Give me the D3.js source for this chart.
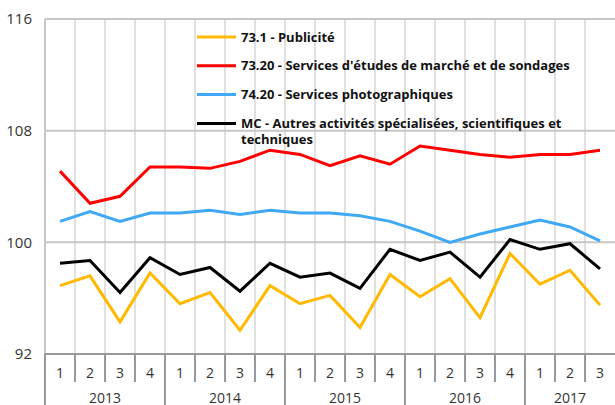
<!DOCTYPE html>
<html>
<head>
<meta charset="utf-8">
<script src="https://cdn.jsdelivr.net/npm/d3@7"></script>
<style>
  body { margin: 0; background: #fff; }
  svg { display: block; font-family: "Open Sans", "Noto Sans", sans-serif; }
</style>
</head>
<body>
<svg id="chart"></svg>
<script>
const years = ["2013", "2014", "2015", "2016", "2017"];
const quarters = ["1", "2", "3", "4", "1", "2", "3", "4", "1", "2", "3", "4", "1", "2", "3", "4", "1", "2", "3"];
const yearOf = [0, 0, 0, 0, 1, 1, 1, 1, 2, 2, 2, 2, 3, 3, 3, 3, 4, 4, 4];
const yTicks = [92, 100, 108, 116];

const publicite = [96.9, 97.6, 94.3, 97.8, 95.6, 96.4, 93.7, 96.9, 95.6, 96.2, 93.9, 97.7, 96.1, 97.4, 94.6, 99.2, 97.0, 98.0, 95.5];
const etudes = [105.1, 102.8, 103.3, 105.4, 105.4, 105.3, 105.8, 106.6, 106.3, 105.5, 106.2, 105.6, 106.9, 106.6, 106.3, 106.1, 106.3, 106.3, 106.6];
const photo = [101.5, 102.2, 101.5, 102.1, 102.1, 102.3, 102.0, 102.3, 102.1, 102.1, 101.9, 101.5, 100.8, 100.0, 100.6, 101.1, 101.6, 101.1, 100.1];
const autres = [98.5, 98.7, 96.4, 98.9, 97.7, 98.2, 96.5, 98.5, 97.5, 97.8, 96.7, 99.5, 98.7, 99.3, 97.5, 100.2, 99.5, 99.9, 98.1];

const series = [
  { name: "73.1 - Publicité", values: publicite, color: "#ffb900" },
  { name: "73.20 - Services d'études de marché et de sondages", values: etudes, color: "#ff0000" },
  { name: "74.20 - Services photographiques", values: photo, color: "#3fa9f5" },
  { name: ["MC - Autres activités spécialisées, scientifiques et", "techniques"], values: autres, color: "#000000" }
];

const width = 615, height = 405;
const margin = { top: 19, right: 0, bottom: 51, left: 45 };

const svg = d3.select("#chart").attr("width", width).attr("height", height);

const x = d3.scaleBand()
  .domain(d3.range(quarters.length))
  .range([margin.left, width - margin.right])
  .padding(0);

const y = d3.scaleLinear()
  .domain([92, 116])
  .range([height - margin.bottom, margin.top]);

const bottom = y(92);

// vertical gridlines at band edges
svg.append("g").selectAll("line")
  .data(d3.range(1, quarters.length))
  .join("line")
  .attr("x1", i => x(i)).attr("x2", i => x(i))
  .attr("y1", margin.top).attr("y2", bottom)
  .attr("stroke", "#e0e0e0").attr("stroke-width", 2);

// horizontal gridlines
svg.append("g").selectAll("line")
  .data(yTicks.filter(t => t !== 92))
  .join("line")
  .attr("x1", margin.left).attr("x2", width)
  .attr("y1", d => y(d)).attr("y2", d => y(d))
  .attr("stroke", "#c6c6c6").attr("stroke-width", 2);

// left border of plot
svg.append("line")
  .attr("x1", margin.left).attr("x2", margin.left)
  .attr("y1", margin.top).attr("y2", bottom)
  .attr("stroke", "#c6c6c6").attr("stroke-width", 2);

// y tick labels
svg.append("g").selectAll("text")
  .data(yTicks)
  .join("text")
  .attr("x", 32).attr("y", d => y(d))
  .attr("dy", "0.35em")
  .attr("text-anchor", "end")
  .attr("font-size", 15)
  .attr("fill", "#333")
  .text(d => d);

// category axis
const axis = svg.append("g");
axis.append("line")
  .attr("x1", margin.left).attr("x2", width)
  .attr("y1", bottom).attr("y2", bottom)
  .attr("stroke", "#999").attr("stroke-width", 2);

const yearStarts = d3.range(quarters.length).filter(i => i === 0 || yearOf[i] !== yearOf[i - 1]);

axis.selectAll("line.q")
  .data(d3.range(1, quarters.length).filter(i => !yearStarts.includes(i)))
  .join("line")
  .attr("class", "q")
  .attr("x1", i => x(i)).attr("x2", i => x(i))
  .attr("y1", bottom).attr("y2", bottom + 28)
  .attr("stroke", "#999").attr("stroke-width", 2);

axis.selectAll("line.yr")
  .data(yearStarts)
  .join("line")
  .attr("class", "yr")
  .attr("x1", i => x(i)).attr("x2", i => x(i))
  .attr("y1", bottom).attr("y2", height)
  .attr("stroke", "#999").attr("stroke-width", 2);

axis.selectAll("text.q")
  .data(quarters)
  .join("text")
  .attr("class", "q")
  .attr("x", (d, i) => x(i) + x.bandwidth() / 2)
  .attr("y", bottom + 19)
  .attr("dy", "0.35em")
  .attr("text-anchor", "middle")
  .attr("font-size", 14)
  .attr("fill", "#333")
  .text(d => d);

axis.selectAll("text.yr")
  .data(years)
  .join("text")
  .attr("class", "yr")
  .attr("x", (d, k) => {
    const idx = d3.range(quarters.length).filter(i => yearOf[i] === k);
    return (x(idx[0]) + x(idx[idx.length - 1]) + x.bandwidth()) / 2;
  })
  .attr("y", bottom + 44)
  .attr("dy", "0.35em")
  .attr("text-anchor", "middle")
  .attr("font-size", 14)
  .attr("fill", "#333")
  .text(d => d);

// lines
const line = d3.line()
  .x((d, i) => x(i) + x.bandwidth() / 2)
  .y(d => y(d));

svg.append("g").selectAll("path")
  .data(series)
  .join("path")
  .attr("fill", "none")
  .attr("stroke", d => d.color)
  .attr("stroke-width", 3)
  .attr("stroke-linejoin", "miter")
  .attr("d", d => line(d.values));

// legend
const legend = svg.append("g").attr("transform", "translate(197, 37)");
const rows = legend.selectAll("g")
  .data(series)
  .join("g")
  .attr("transform", (d, i) => `translate(0, ${i * 28.8})`);

rows.append("line")
  .attr("x1", 0).attr("x2", 39)
  .attr("stroke", d => d.color).attr("stroke-width", 3);

rows.append("text")
  .attr("x", 44)
  .attr("font-size", 13)
  .attr("font-weight", "bold")
  .attr("fill", "#111")
  .selectAll("tspan")
  .data(d => Array.isArray(d.name) ? d.name : [d.name])
  .join("tspan")
  .attr("x", 44)
  .attr("dy", (t, j) => j === 0 ? "0.35em" : "1.25em")
  .text(t => t);
</script>
</body>
</html>
